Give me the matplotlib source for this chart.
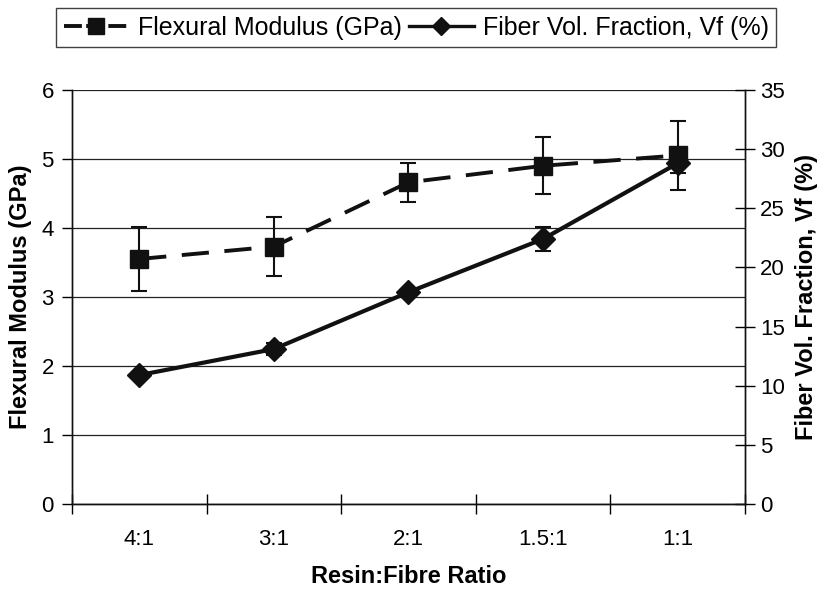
import numpy as np
import matplotlib
matplotlib.use('Agg')
import matplotlib.pyplot as plt
from matplotlib.lines import Line2D

plt.rcParams['font.family'] = ['Liberation Sans', 'DejaVu Sans']

# data
ratios = ['4:1', '3:1', '2:1', '1.5:1', '1:1']
modulus = [3.55, 3.73, 4.66, 4.90, 5.05]
modulus_err = [0.47, 0.43, 0.28, 0.41, 0.50]
vf = [10.9, 13.1, 17.9, 22.4, 28.8]
vf_err = [0.0, 0.5, 0.0, 1.0, 0.8]

x = np.arange(len(ratios))

fig = plt.figure(figsize=(8.26, 5.91), dpi=100)
ax = fig.add_axes([0.087, 0.147, 0.815, 0.701])
ax2 = ax.twinx()

# flexural modulus (left axis)
ax.errorbar(x, modulus, yerr=modulus_err, color='#111111', lw=2.8,
            linestyle=(0, (7, 4)), marker='s', markersize=13,
            ecolor='#111111', elinewidth=1.5, capsize=6, capthick=1.5, zorder=3)

# fibre volume fraction (right axis)
ax2.errorbar(x, vf, yerr=vf_err, color='#111111', lw=3.0, linestyle='-',
             marker='D', markersize=12, ecolor='#111111', elinewidth=1.5,
             capsize=6, capthick=1.5, zorder=3)

ax.set_xlim(-0.5, len(ratios) - 0.5)
ax.set_ylim(0, 6)
ax2.set_ylim(0, 35)
ax.set_yticks(range(0, 7))
ax2.set_yticks(range(0, 36, 5))
ax.set_xticks(x)
ax.set_xticklabels(ratios)
ax.set_xticks(np.arange(-0.5, len(ratios)), minor=True)

ax.yaxis.grid(True, color='#222222', lw=0.9)
ax.set_axisbelow(True)

for a in (ax, ax2):
    a.spines['top'].set_visible(False)
    for s in a.spines.values():
        s.set_linewidth(1.0)
        s.set_color('#111111')

ax.tick_params(axis='x', which='major', length=0, labelsize=16, pad=18)
ax.tick_params(axis='x', which='minor', length=14, direction='inout', width=1)
ax.tick_params(axis='y', length=7, direction='out', width=1, labelsize=16, pad=6)
ax2.tick_params(axis='y', length=14, direction='inout', width=1, labelsize=16, pad=4)

ax.set_xlabel('Resin:Fibre Ratio', fontsize=17, fontweight='bold', labelpad=11)
ax.set_ylabel('Flexural Modulus (GPa)', fontsize=17, fontweight='bold', labelpad=7)
ax2.set_ylabel('Fiber Vol. Fraction, Vf (%)', fontsize=17, fontweight='bold', labelpad=7)

handles = [
    Line2D([], [], color='#111111', lw=2.8, linestyle=(0, (4.6, 1.1)), marker='s', markersize=11),
    Line2D([], [], color='#111111', lw=2.4, linestyle='-', marker='D', markersize=9),
]
leg = fig.legend(handles, ['Flexural Modulus (GPa)', 'Fiber Vol. Fraction, Vf (%)'],
                 loc='center', bbox_to_anchor=(0.504, 0.953), ncol=2, fontsize=18,
                 frameon=True, fancybox=False, handlelength=2.6, columnspacing=0.3,
                 handletextpad=0.35, borderpad=0.3, borderaxespad=0)
leg.get_frame().set_edgecolor('#111111')
leg.get_frame().set_linewidth(1.0)

fig.savefig('out.png', dpi=100)
